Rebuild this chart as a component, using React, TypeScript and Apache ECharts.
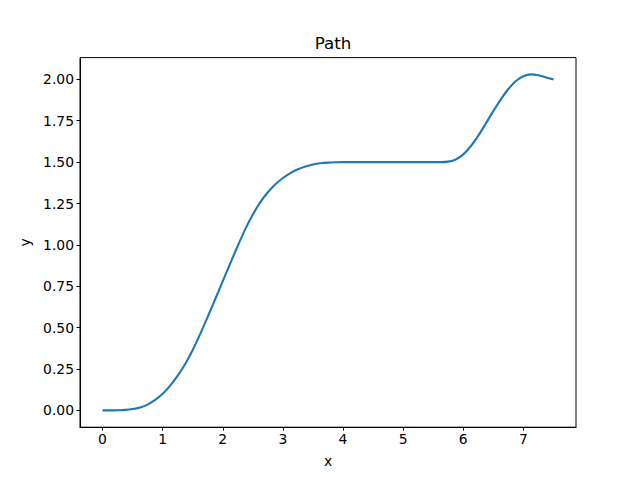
import React, { useEffect, useRef } from "react";
import * as echarts from "echarts";

const xValues = [
  0, 0.125, 0.25, 0.375, 0.5, 0.625, 0.75, 0.875, 1.0, 1.125, 1.25, 1.375, 1.5, 1.625, 1.75, 1.875,
  2.0, 2.125, 2.25, 2.375, 2.5, 2.625, 2.75, 2.875, 3.0, 3.125, 3.25, 3.375, 3.5, 3.625, 3.75, 3.875,
  4.0, 4.5, 5.0, 5.5, 5.625, 5.75, 5.875, 6.0, 6.125, 6.25, 6.375, 6.5, 6.625, 6.75, 6.875,
  7.0, 7.125, 7.25, 7.375, 7.5,
];
const yValues = [
  0, 0, 0.001, 0.003, 0.008, 0.018, 0.035, 0.063, 0.1, 0.15, 0.21, 0.28, 0.365, 0.462, 0.566, 0.673,
  0.781, 0.889, 0.995, 1.095, 1.183, 1.258, 1.318, 1.366, 1.404, 1.434, 1.457, 1.474, 1.486, 1.493, 1.497, 1.499,
  1.5, 1.5, 1.5, 1.5, 1.5, 1.503, 1.516, 1.547, 1.596, 1.66, 1.733, 1.808, 1.879, 1.942, 1.99,
  2.019, 2.03, 2.025, 2.011, 2.0,
];
const xTicks = [0, 1, 2, 3, 4, 5, 6, 7];
const yTicks = [0, 0.25, 0.5, 0.75, 1.0, 1.25, 1.5, 1.75, 2.0];

const FONT = "DejaVu Sans";

export default function App() {
  const ref = useRef<HTMLDivElement>(null);
  useEffect(() => {
    if (!ref.current) return;
    const chart = echarts.init(ref.current, null, { renderer: "svg" });
    const data = xValues.map((x, i) => [x, yValues[i]]);
    chart.setOption({
      animation: false,
      backgroundColor: "#ffffff",
      title: {
        text: "Path",
        left: 328,
        top: 29,
        textAlign: "center",
        textStyle: { fontFamily: FONT, fontSize: 16.7, fontWeight: "normal", color: "#000" },
      },
      grid: {
        left: 80,
        right: 64,
        top: 57.6,
        bottom: 52.8,
        show: true,
        borderColor: "#000",
        borderWidth: 1,
        backgroundColor: "transparent",
      },
      xAxis: {
        type: "value",
        min: -0.375,
        max: 7.875,
        name: "x",
        nameLocation: "middle",
        nameGap: 27,
        nameTextStyle: { fontFamily: FONT, fontSize: 13.9, color: "#000" },
        axisLine: { show: true, onZero: false, lineStyle: { color: "#000", width: 1 } },
        axisTick: { show: true, inside: false, length: 3.5, customValues: xTicks, lineStyle: { color: "#000", width: 1 } },
        axisLabel: {
          show: true,
          customValues: xTicks,
          margin: 5,
          fontFamily: FONT,
          fontSize: 13.9,
          color: "#000",
          formatter: (v: number) => String(v),
        },
        splitLine: { show: false },
      },
      yAxis: {
        type: "value",
        min: -0.1015,
        max: 2.1315,
        name: "y",
        nameLocation: "middle",
        nameGap: 46,
        nameRotate: 90,
        nameTextStyle: { fontFamily: FONT, fontSize: 13.9, color: "#000" },
        axisLine: { show: true, onZero: false, lineStyle: { color: "#000", width: 1 } },
        axisTick: { show: true, inside: false, length: 3.5, customValues: yTicks, lineStyle: { color: "#000", width: 1 } },
        axisLabel: {
          show: true,
          customValues: yTicks,
          margin: 6,
          fontFamily: FONT,
          fontSize: 13.9,
          color: "#000",
          formatter: (v: number) => v.toFixed(2),
        },
        splitLine: { show: false },
      },
      series: [
        {
          type: "line",
          data,
          smooth: 0.3,
          showSymbol: false,
          symbol: "none",
          lineStyle: { color: "#1f77b4", width: 2.1 },
        },
      ],
    });
    return () => chart.dispose();
  }, []);
  return <div ref={ref} style={{ width: 640, height: 480, position: "absolute", left: 0, top: 0 }} />;
}
